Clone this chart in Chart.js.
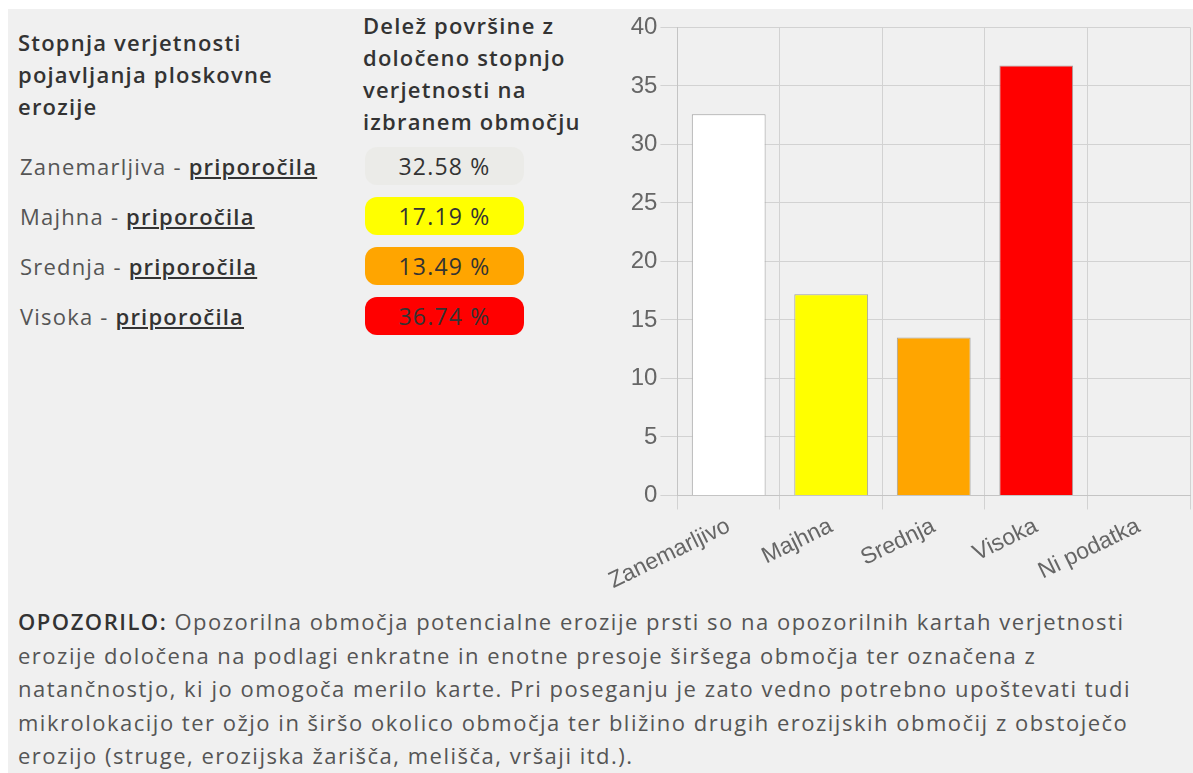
<!DOCTYPE html>
<html>
<head>
<meta charset="utf-8">
<script src="https://cdn.jsdelivr.net/npm/chart.js@4"></script>
<style>
  html, body { margin: 0; padding: 0; background: #fff; }
  #panel {
    position: absolute; left: 8px; top: 9px; width: 1185px; height: 764px;
    background: #f0f0f0; font-family: "Open Sans", sans-serif; color: #333;
    letter-spacing: 1.2px;
  }
  .head { position: absolute; font-size: 22px; font-weight: 600; line-height: 32px; color: #333; white-space: nowrap; }
  .row { position: absolute; left: 12px; font-size: 22px; line-height: 38px; color: #555; white-space: nowrap; }
  .row a { color: #333; font-weight: 600; text-decoration: underline; }
  .pill {
    position: absolute; left: 357px; width: 159px; height: 38px; border-radius: 12px;
    text-align: center; line-height: 38px; font-size: 23px; color: #333;
  }
  #chartBox { position: absolute; left: 593px; top: 1px; width: 592px; height: 588px; letter-spacing: 0; }
  #note { position: absolute; left: 10px; top: 596px; font-size: 22px; line-height: 33.5px; color: #555; white-space: nowrap; letter-spacing: 1.5px; }
  #note b { color: #333; font-weight: 600; }
</style>
</head>
<body>
<div id="panel">
  <div class="head" style="left:10px; top:17px;">Stopnja verjetnosti<br>pojavljanja ploskovne<br>erozije</div>
  <div class="head" style="left:355px; top:0px;">Delež površine z<br>določeno stopnjo<br>verjetnosti na<br>izbranem območju</div>
  <div id="rows"></div>
  <div id="chartBox"><canvas id="myChart"></canvas></div>
  <div id="note"><b>OPOZORILO:</b> Opozorilna območja potencialne erozije prsti so na opozorilnih kartah verjetnosti<br>erozije določena na podlagi enkratne in enotne presoje širšega območja ter označena z<br>natančnostjo, ki jo omogoča merilo karte. Pri poseganju je zato vedno potrebno upoštevati tudi<br>mikrolokacijo ter ožjo in širšo okolico območja ter bližino drugih erozijskih območij z obstoječo<br>erozijo (struge, erozijska žarišča, melišča, vršaji itd.).</div>
</div>
<script>
// data
const rowNames = ["Zanemarljiva", "Majhna", "Srednja", "Visoka"];
const rowShares = ["32.58 %", "17.19 %", "13.49 %", "36.74 %"];
const pillColors = ["#ebebe8", "#ffff00", "#ffa500", "#ff0000"];

const labels = ["Zanemarljivo", "Majhna", "Srednja", "Visoka", "Ni podatka"];
const values = [32.58, 17.19, 13.49, 36.74, 0];
const barColors = ["#ffffff", "#ffff00", "#ffa500", "#ff0000", "#cccccc"];

// left table
const rows = document.getElementById("rows");
rowNames.forEach((name, i) => {
  const top = 138 + i * 50;
  rows.innerHTML +=
    '<div class="row" style="top:' + top + 'px">' + name + ' - <a>priporočila</a></div>' +
    '<div class="pill" style="top:' + top + 'px; background:' + pillColors[i] + '">' + rowShares[i] + '</div>';
});

// config
const config = {
  type: "bar",
  data: {
    labels,
    datasets: [
      {
        label: "",
        data: values,
        backgroundColor: barColors,
        borderColor: "#a0a0a0",
        borderWidth: 1,
      },
    ],
  },
  options: {
    responsive: true,
    maintainAspectRatio: false,
    animation: false,
    layout: { padding: { top: 10, right: 3, left: 14 } },
    scales: {
      y: {
        min: 0,
        max: 40,
        ticks: {
          stepSize: 5,
          color: "#666",
          font: { family: "Liberation Sans", size: 24 },
        },
        grid: { color: "#d2d2d2", tickLength: 17 },
        border: { color: "#c4c4c4" },
      },
      x: {
        ticks: {
          minRotation: 26,
          maxRotation: 26,
          color: "#666",
          font: { family: "Liberation Sans", size: 23 },
        },
        grid: { color: "#d2d2d2", offset: true, tickLength: 14 },
        border: { color: "#c4c4c4" },
      },
    },
    plugins: {
      legend: { display: false },
      tooltip: { enabled: false },
    },
  },
};

// render init block
const myChart = new Chart(document.getElementById("myChart"), config);
</script>
</body>
</html>
